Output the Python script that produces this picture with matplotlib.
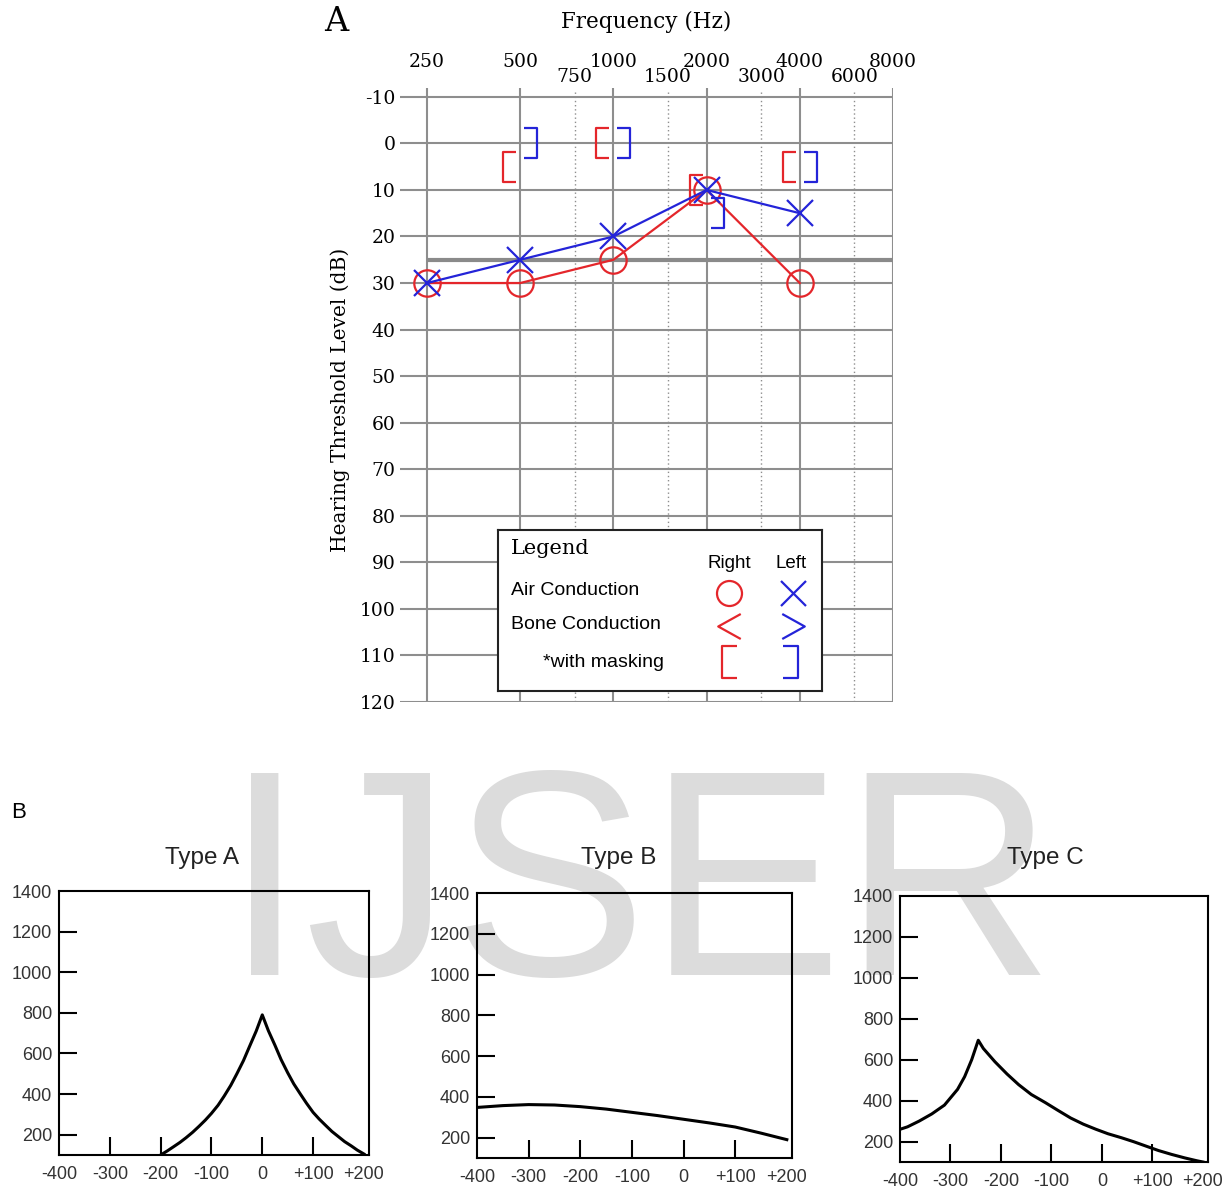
import numpy as np
import matplotlib
matplotlib.use("Agg")
import matplotlib.pyplot as plt
from matplotlib.path import Path

# ---------------- data ----------------
# audiogram (panel A)
freqs = [250, 500, 1000, 2000, 4000]
right_air = [30, 30, 25, 10, 30]
left_air = [30, 25, 20, 10, 15]
masked_freqs = [500, 1000, 2000, 4000]
right_bone_masked = [5, 0, 10, 5]
left_bone_masked = [0, 0, 15, 5]
octave_ticks = [250, 500, 1000, 2000, 4000, 8000]
mid_ticks = [750, 1500, 3000, 6000]
db_ticks = list(range(-10, 121, 10))
normal_limit = 25

# tympanograms (panel B)
press_a = [-200, -187, -175, -162, -150, -137, -125, -112, -100, -87, -75, -62, -50, -37,
           -25, -12, 0, 12, 25, 37, 50, 62, 75, 87, 100, 112, 125, 137, 150, 162, 175,
           187, 200]
comp_a = [100, 120, 140, 162, 185, 212, 240, 272, 305, 345, 390, 443, 500, 565,
          635, 710, 790, 712, 640, 570, 505, 450, 400, 355, 310, 277, 245, 216, 190,
          166, 145, 124, 105]
press_b = [-400, -350, -300, -250, -200, -150, -100, -50, 0, 50, 100, 150, 200]
comp_b = [348, 357, 362, 360, 352, 340, 324, 308, 290, 272, 252, 222, 190]
press_c = [-396, -385, -362, -337, -312, -286, -272, -258, -245, -235, -212, -188, -165,
           -140, -112, -87, -62, -37, -12, 12, 38, 63, 88, 112, 138, 164, 188, 200]
comp_c = [263, 272, 300, 335, 378, 455, 517, 600, 695, 655, 590, 530, 478,
          430, 390, 352, 315, 285, 260, 238, 219, 199, 177, 156, 137, 120, 106, 100]
tymp_xticks = [-300, -200, -100, 0, 100]
tymp_xedge = [-400, 200]
tymp_xlabels = ["-300", "-200", "-100", "0", "+100"]
tymp_xedge_labels = ["-400", "+200"]
tymp_yticks = [200, 400, 600, 800, 1000, 1200]

RED = "#e4262b"
BLUE = "#2424d8"
GRID = "#8e8e8e"

W, H = 1224, 1194
fig = plt.figure(figsize=(W / 100, H / 100), dpi=100)


def px_axes(l, t, r, b, **kw):
    return fig.add_axes([l / W, 1 - b / H, (r - l) / W, (b - t) / H], **kw)


def bracket(stroke, arm, half):
    return Path([(arm, half), (stroke, half), (stroke, -half), (arm, -half)],
                [Path.MOVETO, Path.LINETO, Path.LINETO, Path.LINETO])


left_br = bracket(-17, -4, 15)     # "[" drawn left of the frequency
right_br = bracket(17, 4, 15)      # "]" drawn right of the frequency
chev_l = Path([(0.45, 0.5), (-0.45, 0), (0.45, -0.5)], [Path.MOVETO, Path.LINETO, Path.LINETO])
chev_r = Path([(-0.45, 0.5), (0.45, 0), (-0.45, -0.5)], [Path.MOVETO, Path.LINETO, Path.LINETO])

# watermark (behind everything)
fig.text(224 / W, 1 - 975 / H, "IJSER", fontsize=211, color="#dcdcdc",
         family="Liberation Sans", ha="left", va="baseline", zorder=-5)

# ---------------- panel A: audiogram ----------------
ax = px_axes(400, 88, 893, 702)
ax.patch.set_alpha(0)
ax.set_xscale("log", base=2)
ax.set_xlim(204.6, 8000)
ax.set_ylim(120, -11.9)
for s in ax.spines.values():
    s.set_visible(False)

ax.hlines(db_ticks, 204.6, 8000, color=GRID, lw=1.5, zorder=1)
ax.vlines(octave_ticks, -11.9, 120, color=GRID, lw=1.5, zorder=1)
ax.vlines(mid_ticks, -11.0, 120, color=GRID, lw=1.0, linestyles=(0, (1, 2)), zorder=1)
ax.hlines(normal_limit, 250, 8000, color="#8a8a8a", lw=3, zorder=1)

ax.plot(freqs, right_air, color=RED, lw=1.6, marker="o", ms=19, mfc="none",
        mew=1.6, zorder=3)
ax.plot(freqs, left_air, color=BLUE, lw=1.6, marker="x", ms=19, mew=1.6, zorder=4)
ax.plot(masked_freqs, right_bone_masked, ls="none", marker=left_br, ms=24.5,
        mfc="none", mec=RED, mew=1.6, zorder=3)
ax.plot(masked_freqs, left_bone_masked, ls="none", marker=right_br, ms=24.5,
        mfc="none", mec=BLUE, mew=1.6, zorder=3)

serif = "DejaVu Serif"
ax.xaxis.tick_top()
ax.set_xticks(octave_ticks)
ax.set_xticklabels([str(f) for f in octave_ticks], family=serif, fontsize=13.5)
ax.set_xticks(mid_ticks, minor=True)
ax.set_xticklabels([str(f) for f in mid_ticks], minor=True, family=serif, fontsize=13.5)
ax.tick_params(axis="x", which="major", length=0, pad=12)
ax.tick_params(axis="x", which="minor", length=0, pad=1.5)
ax.set_yticks(db_ticks)
ax.set_yticklabels([str(d) for d in db_ticks], family=serif, fontsize=13.5)
ax.tick_params(axis="y", length=0, pad=3)

fig.text(646 / W, 1 - 22 / H, "Frequency (Hz)", family=serif, fontsize=15.5,
         ha="center", va="center")
fig.text(336 / W, 1 - 22 / H, "A", family=serif, fontsize=24, ha="center", va="center")
fig.text(340 / W, 1 - 400 / H, "Hearing Threshold Level (dB)", family=serif,
         fontsize=14.5, rotation=90, ha="center", va="center")

# legend box
lg = px_axes(498, 530, 822, 691)
lg.set_xlim(0, 1)
lg.set_ylim(0, 1)
lg.set_xticks([])
lg.set_yticks([])
for s in lg.spines.values():
    s.set_linewidth(1.5)
    s.set_color("#222222")
sans = "Liberation Sans"
lg.text(0.04, 0.885, "Legend", family=serif, fontsize=15, va="center")
lg.text(0.713, 0.795, "Right", family=sans, fontsize=13.5, ha="center", va="center")
lg.text(0.904, 0.795, "Left", family=sans, fontsize=13.5, ha="center", va="center")
lg.text(0.04, 0.627, "Air Conduction", family=sans, fontsize=14, va="center")
lg.text(0.04, 0.41, "Bone Conduction", family=sans, fontsize=14, va="center")
lg.text(0.139, 0.18, "*with masking", family=sans, fontsize=14, va="center")
lg.plot([0.713], [0.61], marker="o", ms=18, mfc="none", mec=RED, mew=1.6)
lg.plot([0.91], [0.61], marker="x", ms=18, mec=BLUE, mew=1.6)
lg.plot([0.713], [0.405], marker=chev_l, ms=18, mfc="none", mec=RED, mew=1.6)
lg.plot([0.91], [0.405], marker=chev_r, ms=18, mfc="none", mec=BLUE, mew=1.6)
lg.plot([0.713], [0.18], marker=bracket(-7, 8, 16), ms=23, mfc="none", mec=RED, mew=1.6)
lg.plot([0.904], [0.18], marker=bracket(7, -8, 16), ms=23, mfc="none", mec=BLUE, mew=1.6)

# ---------------- panel B: tympanograms ----------------
fig.text(11 / W, 1 - 812 / H, "B", family="Liberation Sans", fontsize=16, va="center")

panels = [
    ("Type A", (59, 891, 369, 1155), press_a, comp_a, 202),
    ("Type B", (477, 893, 792, 1158), press_b, comp_b, 619),
    ("Type C", (900, 896, 1208, 1162), press_c, comp_c, 1045),
]
for title, box, px, cy, tx in panels:
    t = px_axes(*box)
    t.patch.set_alpha(0)
    t.plot(px, cy, color="black", lw=2.2, solid_joinstyle="round")
    t.set_xlim(-400, 210)
    t.set_ylim(100, 1400)
    t.set_xticks(tymp_xticks)
    t.set_xticklabels(tymp_xlabels)
    t.set_xticks(tymp_xedge, minor=True)
    t.set_xticklabels(tymp_xedge_labels, minor=True)
    t.set_yticks(tymp_yticks)
    t.set_yticks([1400], minor=True)
    t.set_yticklabels([str(v) for v in tymp_yticks])
    t.set_yticklabels(["1400"], minor=True)
    t.tick_params(which="major", direction="in", length=13, width=1.5, colors="black",
                  labelcolor="#333333", labelsize=13)
    t.tick_params(which="minor", length=0, labelcolor="#333333", labelsize=13)
    t.tick_params(axis="x", which="both", pad=8)
    t.tick_params(axis="y", which="both", pad=5)
    for lab in t.get_xticklabels(which="both") + t.get_yticklabels(which="both"):
        lab.set_family(sans)
    for s in t.spines.values():
        s.set_linewidth(1.5)
    fig.text(tx / W, 1 - 858 / H, title, family=sans, fontsize=17.5, ha="center",
             va="center", color="#222222")

fig.savefig("out.png", dpi=100)
